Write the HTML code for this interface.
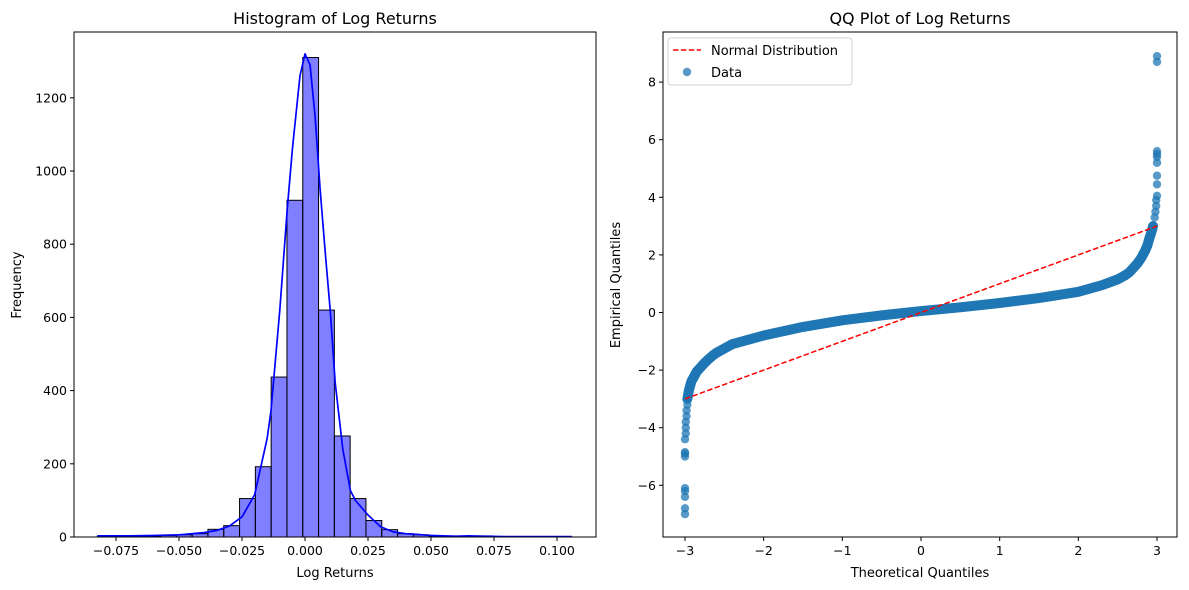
<!DOCTYPE html>
<html><head><meta charset="utf-8"><style>
html,body{margin:0;padding:0;background:#fff;}
svg{display:block;font-family:"DejaVu Sans","Liberation Sans",sans-serif;}
</style></head><body>
<svg id="fig" width="1189" height="590" viewBox="0 0 1189 590"></svg>
<script>
// ---- Histogram data ----
const binStart = -0.0824;
const binWidth = 0.00627;
const binCounts = [2,0,1,2,4,6,9,21,31,105,192,437,920,1310,620,276,105,45,20,9,6,2,1,1,3,1,1,1,0,1];
const kdeX = [-0.0824,-0.07,-0.06,-0.05,-0.04,-0.035,-0.03,-0.025,-0.02,-0.015,-0.0135,-0.01,-0.007,-0.005,-0.002,0.0,0.002,0.004,0.006,0.008,0.01,0.012,0.015,0.018,0.02,0.025,0.03,0.035,0.04,0.045,0.05,0.06,0.065,0.07,0.08,0.09,0.1058];
const kdeY = [3,3,4,6,12,18,30,55,115,270,345,620,900,1060,1260,1320,1290,1150,950,780,620,420,240,127,100,60,28,14,9,7,4,2,3,2,1,1,1];
const histXTicks = [-0.075,-0.05,-0.025,0,0.025,0.05,0.075,0.1];
const histXTickLabels = ["\u22120.075","\u22120.050","\u22120.025","0.000","0.025","0.050","0.075","0.100"];
const histYTicks = [0,200,400,600,800,1000,1200];
// ---- QQ data ----
const qqTheo = [-3.0,-3.0,-3.0,-3.0,-3.0,-3.0,-3.0,-3.0,-3.0,-2.99,-2.99,-2.99,-2.98,-2.98,-2.97,-2.97,-2.96,-2.95,-2.93,-2.92,-2.9,-2.87,-2.85,-2.8,-2.75,-2.7,-2.65,-2.6,-2.5,-2.4,-2.2,-2.0,-1.5,-1.0,-0.5,0,0.5,1.0,1.5,2.0,2.3,2.5,2.6,2.65,2.7,2.75,2.8,2.85,2.88,2.9,2.93,2.95,2.97,2.98,2.99,2.99,3.0,3.0,3.0,3.0,3.0,3.0,3.0,3.0,3.0];
const qqEmp = [-7.0,-6.8,-6.4,-6.2,-6.1,-5.0,-4.9,-4.85,-4.4,-4.2,-4.0,-3.8,-3.6,-3.4,-3.2,-3.0,-2.85,-2.7,-2.5,-2.4,-2.3,-2.15,-2.05,-1.9,-1.75,-1.62,-1.5,-1.4,-1.25,-1.1,-0.95,-0.8,-0.5,-0.27,-0.1,0.05,0.18,0.33,0.5,0.72,0.95,1.15,1.3,1.4,1.55,1.7,1.9,2.15,2.35,2.55,2.8,3.0,3.3,3.5,3.7,3.9,4.05,4.45,4.75,5.2,5.4,5.5,5.6,8.7,8.9];
const qqXTicks = [-3,-2,-1,0,1,2,3];
const qqYTicks = [-6,-4,-2,0,2,4,6,8];
const refLineX = [-3,3];
const refLineY = [-3,3];

const NS="http://www.w3.org/2000/svg";
const svg=document.getElementById('fig');
function mk(tag,attrs,parent){const e=document.createElementNS(NS,tag);for(const k in attrs)e.setAttribute(k,attrs[k]);(parent||svg).appendChild(e);return e;}
function txt(s,attrs,parent){const e=mk('text',attrs,parent);e.textContent=s;return e;}
const minus=v=>String(v).replace('-','\u2212');

// ---------- Left: histogram ----------
const L={x0:74,x1:596,y0:32,y1:537};
const hx=v=>305+v*2520;
const hy=v=>537-v*0.366;
const gH=mk('g',{});


binCounts.forEach((c,i)=>{
  const x=hx(binStart+i*binWidth), w=hx(binStart+(i+1)*binWidth)-x;
  const r=mk('rect',{x:x,y:hy(c),width:w,height:hy(0)-hy(c),fill:'rgba(0,0,255,0.5)',stroke:'#000','stroke-width':1},gH);
  
  
});
const kp=mk('polyline',{points:kdeX.map((x,i)=>hx(x)+','+hy(kdeY[i])).join(' '),fill:'none',stroke:'#0000ff','stroke-width':1.7,'stroke-linejoin':'round'},gH);


const fr1=mk('rect',{x:L.x0,y:L.y0,width:L.x1-L.x0,height:L.y1-L.y0,fill:'none',stroke:'#000','stroke-width':1},gH);


histXTicks.forEach((t,i)=>{
  const x=hx(t);
  mk('line',{x1:x,x2:x,y1:L.y1,y2:L.y1+4,stroke:'#000'},gH);
  const e=txt(histXTickLabels[i],{x:x,y:L.y1+18,'font-size':12.5,'text-anchor':'middle'},gH);
  
  
});
histYTicks.forEach(t=>{
  const y=hy(t);
  mk('line',{x1:L.x0-4,x2:L.x0,y1:y,y2:y,stroke:'#000'},gH);
  const e=txt(String(t),{x:L.x0-7,y:y+4.5,'font-size':12.5,'text-anchor':'end'},gH);
  
  
});
let e;
e=txt('Histogram of Log Returns',{x:335,y:24,'font-size':16,'text-anchor':'middle'},gH);

e=txt('Log Returns',{x:335,y:577,'font-size':13,'text-anchor':'middle'},gH);

e=txt('Frequency',{x:21,y:285,'font-size':13,'text-anchor':'middle',transform:'rotate(-90 21 285)'},gH);


// ---------- Right: QQ plot ----------
const R={x0:663,x1:1177,y0:32,y1:537};
const qx=v=>921+v*78.67;
const qy=v=>312.5-v*28.8;
const gQ=mk('g',{});


const band=mk('polyline',{points:qqTheo.map((x,i)=>qx(x)+','+qy(qqEmp[i])).filter((p,i)=>qqEmp[i]>-3.1&&qqEmp[i]<3.1).join(' '),fill:'none',stroke:'#1f77b4','stroke-width':10,'stroke-linejoin':'round','stroke-linecap':'round'},gQ);


qqTheo.forEach((x,i)=>{
  const c=mk('circle',{cx:qx(x),cy:qy(qqEmp[i]),r:4.2,fill:'#1f77b4','fill-opacity':0.75},gQ);
  
  
});
const rl=mk('line',{x1:qx(refLineX[0]),y1:qy(refLineY[0]),x2:qx(refLineX[1]),y2:qy(refLineY[1]),stroke:'#ff0000','stroke-width':1.5,'stroke-dasharray':'5.5,2.4'},gQ);


const fr2=mk('rect',{x:R.x0,y:R.y0,width:R.x1-R.x0,height:R.y1-R.y0,fill:'none',stroke:'#000','stroke-width':1},gQ);


qqXTicks.forEach(t=>{
  const x=qx(t);
  mk('line',{x1:x,x2:x,y1:R.y1,y2:R.y1+4,stroke:'#000'},gQ);
  const e=txt(minus(t),{x:x,y:R.y1+18,'font-size':12.5,'text-anchor':'middle'},gQ);
  
  
});
qqYTicks.forEach(t=>{
  const y=qy(t);
  mk('line',{x1:R.x0-4,x2:R.x0,y1:y,y2:y,stroke:'#000'},gQ);
  const e=txt(minus(t),{x:R.x0-7,y:y+4.5,'font-size':12.5,'text-anchor':'end'},gQ);
  
  
});
e=txt('QQ Plot of Log Returns',{x:920,y:24,'font-size':16,'text-anchor':'middle'},gQ);

e=txt('Theoretical Quantiles',{x:920,y:577,'font-size':13,'text-anchor':'middle'},gQ);

e=txt('Empirical Quantiles',{x:620,y:285,'font-size':13,'text-anchor':'middle',transform:'rotate(-90 620 285)'},gQ);

// legend
const lg=mk('g',{},gQ);


mk('rect',{x:668,y:38,width:184,height:47,rx:3,fill:'#fff','fill-opacity':0.8,stroke:'#d0d0d0'},lg);
mk('line',{x1:673,x2:701,y1:50,y2:50,stroke:'#ff0000','stroke-width':1.5,'stroke-dasharray':'5.5,2.4'},lg);
e=txt('Normal Distribution',{x:711,y:55,'font-size':13},lg);

mk('circle',{cx:687,cy:72,r:4.2,fill:'#1f77b4','fill-opacity':0.75},lg);
e=txt('Data',{x:711,y:77,'font-size':13},lg);

</script>
</body></html>
